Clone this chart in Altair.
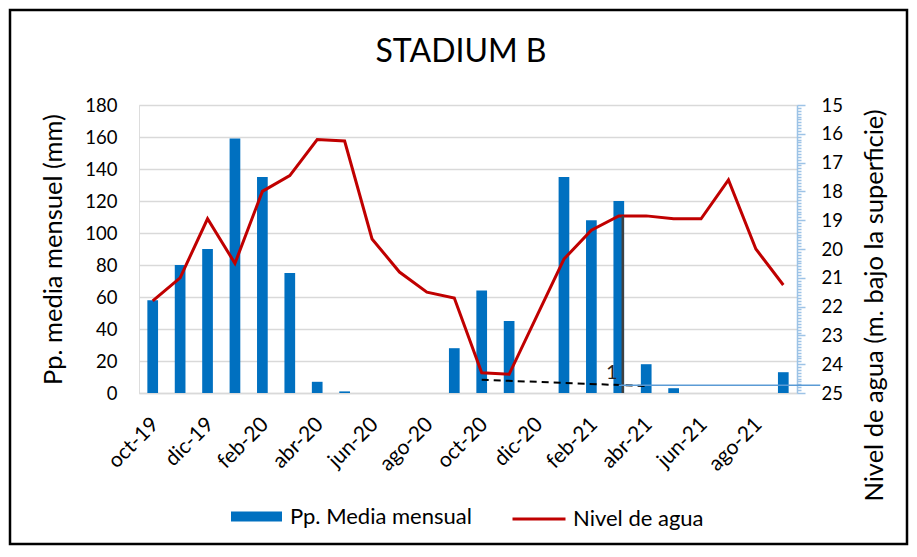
import altair as alt
import pandas as pd

# ---- data -------------------------------------------------------------
meses = ["oct-19", "nov-19", "dic-19", "ene-20", "feb-20", "mar-20", "abr-20", "may-20",
         "jun-20", "jul-20", "ago-20", "sep-20", "oct-20", "nov-20", "dic-20", "ene-21",
         "feb-21", "mar-21", "abr-21", "may-21", "jun-21", "jul-21", "ago-21", "sep-21"]
pp_media = [58, 80, 90, 159, 135, 75, 7, 1, 0, 0, 0, 28, 64, 45, 0, 135,
            108, 120, 18, 3, 0, 0, 0, 13]
nivel_agua = [21.8, 21.0, 18.95, 20.5, 18.0, 17.45, 16.2, 16.25, 19.65, 20.8, 21.5, 21.7,
              24.3, 24.35, 22.35, 20.35, 19.35, 18.85, 18.85, 18.95, 18.95, 17.6, 20.0, 21.25]
x_labels = meses[::2]
left_ticks = [0, 20, 40, 60, 80, 100, 120, 140, 160, 180]
right_ticks = [round(15 + i * 0.1, 1) for i in range(101)]

# annotation shapes present in the original picture
dash_mes = ["oct-20", "abr-21"]
dash_nivel = [24.54, 24.76]
vline_mes = ["mar-21"]
vline_from = [18.85]
vline_to = [25.0]
hline_mes = ["mar-21"]
hline_end = ["sep-21"]
hline_nivel = [24.73]
mark_text = ["1"]
mark_text_nivel = [24.3]

FONT = "Lato"
W, H = 658, 288

df = pd.DataFrame({"mes": meses, "pp": pp_media, "nivel": nivel_agua})
dash_df = pd.DataFrame({"mes": dash_mes, "nivel": dash_nivel})
vline_df = pd.DataFrame({"mes": vline_mes, "nivel": vline_from, "nivel2": vline_to})
hline_df = pd.DataFrame({"mes": hline_mes, "mes2": hline_end, "nivel": hline_nivel})
text_df = pd.DataFrame({"mes": vline_mes, "nivel": mark_text_nivel, "t": mark_text})

x_scale = alt.Scale(domain=meses, paddingInner=0.61, paddingOuter=0.305)
x_axis = alt.Axis(values=x_labels, labelAngle=-45, labelAlign="right", labelBaseline="middle",
                  ticks=False, domainColor="#d9d9d9", domainWidth=1.5, labelFontSize=21,
                  labelFont=FONT, labelColor="black", labelPadding=28, labelOffset=3,
                  title=None, grid=False)
x_enc = alt.X("mes:N", scale=x_scale, axis=x_axis)

left_axis = alt.Axis(values=left_ticks, title="Pp. media mensuel (mm)", titleFont=FONT,
                     titleFontSize=25.5, titleFontWeight="normal", titleColor="black",
                     titlePadding=18, labelFont=FONT, labelFontSize=18.5, labelColor="black",
                     labelPadding=22, ticks=False, domain=False, grid=True,
                     gridColor="#d9d9d9", gridWidth=1.5)

right_axis = alt.Axis(values=right_ticks, orient="right",
                      labelExpr="datum.value % 1 == 0 ? format(datum.value, 'd') : ''",
                      title="Nivel de agua (m. bajo la superficie)", titleFont=FONT,
                      titleFontSize=25.5, titleFontWeight="normal", titleColor="black",
                      titleAngle=270, titleBaseline="top", titlePadding=20, titleY=200,
                      labelFont=FONT, labelFontSize=18.5, labelColor="black",
                      labelPadding=16, tickColor="#9dc3e6", tickWidth=1.5,
                      tickSize={"condition": {"test": "datum.value % 1 == 0", "value": 8},
                                "value": 4},
                      domainColor="#9dc3e6", domainWidth=1.5, grid=False)
y_right = alt.Y("nivel:Q", scale=alt.Scale(domain=[15, 25], reverse=True, nice=False),
                axis=right_axis)

bars = alt.Chart(df).mark_bar(size=10.7).encode(
    x=x_enc,
    y=alt.Y("pp:Q", scale=alt.Scale(domain=[0, 180], nice=False), axis=left_axis),
    color=alt.Color("serie:N",
                    scale=alt.Scale(domain=["Pp. Media mensual"], range=["#0070c0"]),
                    legend=alt.Legend(orient="none", legendX=92, legendY=386, title=None,
                                      direction="horizontal",
                                      symbolType="M-1,-0.2H1V0.2H-1Z", symbolSize=2601,
                                      symbolStrokeWidth=0, labelFont=FONT, labelFontSize=22,
                                      labelColor="black", labelOffset=8, labelLimit=400)),
).transform_calculate(serie="'Pp. Media mensual'")

line = alt.Chart(df).mark_line(strokeWidth=3).encode(
    x=x_enc,
    y=y_right,
    stroke=alt.Stroke("serie:N",
                      scale=alt.Scale(domain=["Nivel de agua"], range=["#c00000"]),
                      legend=alt.Legend(orient="none", legendX=372, legendY=386, title=None,
                                        direction="horizontal", symbolType="stroke",
                                        symbolSize=2809, symbolStrokeWidth=3,
                                        labelFont=FONT, labelFontSize=22,
                                        labelColor="black", labelOffset=6, labelLimit=400)),
).transform_calculate(serie="'Nivel de agua'")

dash = alt.Chart(dash_df).mark_line(color="black", strokeDash=[7, 5], strokeWidth=2).encode(
    x=x_enc, y=y_right)
vline = alt.Chart(vline_df).mark_rule(color="#404040", strokeWidth=2.5, xOffset=4).encode(
    x=x_enc, y=y_right, y2="nivel2:Q")
hline = alt.Chart(hline_df).mark_rule(color="#5b9bd5", strokeWidth=1.5, x2Offset=37).encode(
    x=x_enc, x2="mes2:N", y=y_right)
txt = alt.Chart(text_df).mark_text(font=FONT, fontSize=20, color="#262626", dx=-7).encode(
    x=x_enc, y=y_right, text="t:N")

frame = alt.Chart(alt.Data(values=[{}])).mark_rect(
    fill=None, stroke="black", strokeWidth=2.5).encode(
    x=alt.value(-129), x2=alt.value(768), y=alt.value(-95), y2=alt.value(439))

right_layer = alt.layer(line, dash, vline, hline, txt)

chart = alt.layer(bars, right_layer, frame).resolve_scale(y="independent").properties(
    width=W, height=H,
    title=alt.TitleParams("STADIUM B", font=FONT, fontSize=32, fontWeight="normal",
                          color="black", offset=0, dy=60, frame="group", dx=-7),
    autosize=alt.AutoSizeParams(type="none"),
    padding={"left": 131, "top": 97, "right": 112, "bottom": 156},
).configure_view(stroke=None).configure(background="white")

chart.save("out.html", embed_options={"renderer": "svg", "actions": False})
